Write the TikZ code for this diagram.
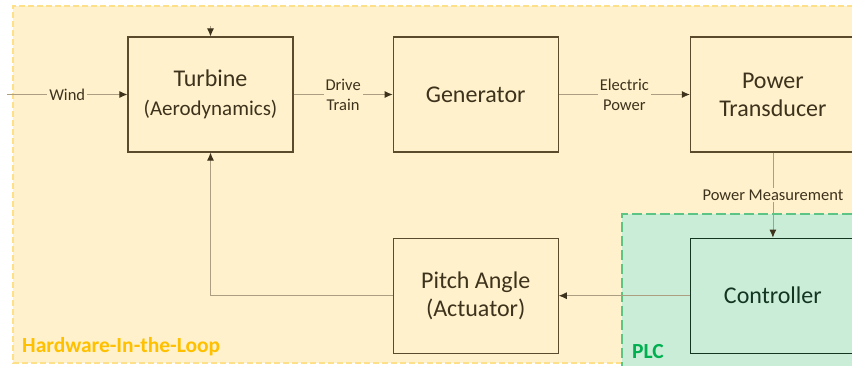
\documentclass[tikz,border=0pt]{standalone}
\usepackage{fontspec}
\setmainfont{Carlito}
\usetikzlibrary{arrows.meta, positioning}
\definecolor{hilfill}{HTML}{FFF1CC}
\definecolor{hilline}{HTML}{FFE08A}
\definecolor{hiltext}{HTML}{FFC000}
\definecolor{plcfill}{HTML}{CAEDD8}
\definecolor{plcline}{HTML}{5CC585}
\definecolor{plctext}{HTML}{00B050}
\definecolor{boxline}{HTML}{5B4A2C}
\definecolor{boxtext}{HTML}{3D321C}
\definecolor{ctrltext}{HTML}{133522}
\definecolor{wire}{HTML}{AC9E80}
\tikzset{
  block/.style={rectangle,draw=boxline,line width=1.2pt,minimum width=165pt,minimum height=115pt,
    align=center,text=boxtext,font=\fontsize{24}{28}\selectfont},
  ctrlblock/.style={block,draw=ctrltext,text=ctrltext},
  signal/.style={draw=wire,line width=0.8pt,-{Latex[length=8pt,width=7pt,color=boxtext]}},
  siglabel/.style={fill=hilfill,inner sep=2pt,align=center,text=boxtext,font=\fontsize{16.5}{20}\selectfont},
  zone/.style={line width=1.2pt,dash pattern=on 6pt off 3pt},
  zonelabel/.style={anchor=base west,inner sep=0pt,font=\fontsize{21.5}{25}\selectfont\bfseries},
}
\begin{document}
\begin{tikzpicture}[x=1pt,y=-1pt]
  \clip (0,0) rectangle (852,365);
  % regions
  \fill[hilfill] (13,6) rectangle (880,363);
  \draw[zone,hilline] (880,6) -- (13,6) -- (13,363) -- (880,363);
  \fill[plcfill] (622,214) rectangle (880,380);
  \draw[zone,plcline,dash pattern=on 10pt off 4pt] (880,214) -- (622,214) -- (622,380);
  \node[zonelabel,text=hiltext] (hil) at (22,352) {Hardware-In-the-Loop};
  \node[zonelabel,text=plctext] (plc) at (632,358) {PLC};
  % blocks
  \node[block] (turbine) at (210.5,94.5) {Turbine\\[1pt]{\fontsize{21}{25}\selectfont(Aerodynamics)}};
  \node[block,right=99pt of turbine] (generator) {Generator};
  \node[block,right=131pt of generator] (transducer) {Power\\Transducer};
  \node[ctrlblock,below=85pt of transducer] (controller) {Controller};
  \node[block,below=85pt of generator] (pitch) {Pitch Angle\\(Actuator)};
  \coordinate (windin) at (7,94.5);
  \coordinate (turbtop) at (210.5,26);
  % signals
  \draw[signal] (windin) -- node[siglabel] {Wind} (turbine);
  \draw[signal] (turbtop) -- (turbine);
  \draw[signal] (turbine) -- node[siglabel] {Drive\\Train} (generator);
  \draw[signal] (generator) -- node[siglabel] {Electric\\Power} (transducer);
  \draw[signal] (transducer) -- node[siglabel] {Power Measurement} (controller);
  \draw[signal] (controller) -- (pitch);
  \draw[signal] (pitch.west) -| (turbine.south);
\end{tikzpicture}
\end{document}
